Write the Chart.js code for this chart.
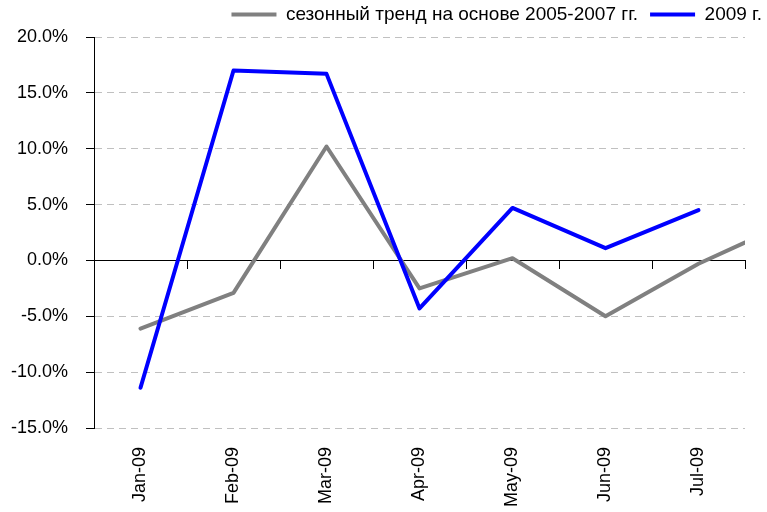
<!DOCTYPE html>
<html lang="ru">
<head>
<meta charset="UTF-8">
<title>Сезонный тренд и 2009 г.</title>
<style>
  html, body { margin: 0; padding: 0; background: #fff; }
  canvas { display: block; }
</style>
</head>
<body>
<canvas id="chart" width="767" height="512"></canvas>
<script src="https://cdn.jsdelivr.net/npm/chart.js"></script>
<script>
// categories (Aug-09 is only there so the trend line runs on to the right edge)
const months = ['Jan-09', 'Feb-09', 'Mar-09', 'Apr-09', 'May-09', 'Jun-09', 'Jul-09', 'Aug-09'];
const shownMonths = 7;

// series, in percent
const trendLabel = 'сезонный тренд на основе 2005-2007 гг.';
const trendValues = [-6.1, -2.9, 10.2, -2.5, 0.2, -5.0, -0.3, 3.5];
const label2009 = '2009 г.';
const values2009 = [-11.4, 17.0, 16.7, -4.3, 4.7, 1.1, 4.5];

// y ticks
const yTicks = [-15, -10, -5, 0, 5, 10, 15, 20];

const FONT = '"Liberation Sans", Arial, sans-serif';

// month index -> x position on a linear axis
const toPoints = vals => vals.map((v, i) => ({ x: i, y: v }));
const xMin = -0.5;
const xMax = shownMonths - 0.5;

const ctx = document.getElementById('chart').getContext('2d');

new Chart(ctx, {
    type: 'line',
    data: {
        datasets: [
            {
                label: trendLabel,
                data: toPoints(trendValues),
                borderColor: '#808080',
                backgroundColor: '#808080',
                borderWidth: 4,
                pointRadius: 0,
                tension: 0,
                clip: 0,
                borderCapStyle: 'round',
                borderJoinStyle: 'round',
                order: 1
            },
            {
                label: label2009,
                data: toPoints(values2009),
                borderColor: '#0000ff',
                backgroundColor: '#0000ff',
                borderWidth: 4,
                pointRadius: 0,
                tension: 0,
                borderCapStyle: 'round',
                borderJoinStyle: 'round',
                order: 0
            }
        ]
    },
    options: {
        responsive: false,
        animation: false,
        devicePixelRatio: 1,
        layout: {
            padding: { left: 9, top: -7, right: -7, bottom: 0 }
        },
        plugins: {
            tooltip: { enabled: false },
            legend: {
                position: 'top',
                align: 'end',
                labels: {
                    color: '#000',
                    font: { family: FONT, size: 19 },
                    boxWidth: 45,
                    boxHeight: 4,
                    padding: 12,
                    generateLabels(chart) {
                        return Chart.defaults.plugins.legend.labels.generateLabels(chart)
                            .sort((a, b) => a.datasetIndex - b.datasetIndex)
                            .map(item => ({ ...item, fillStyle: item.strokeStyle, lineWidth: 0 }));
                    }
                }
            }
        },
        scales: {
            x: {
                type: 'linear',
                position: 'bottom',
                min: xMin,
                max: xMax,
                afterBuildTicks(scale) {
                    scale.ticks = months.slice(0, shownMonths).map((m, i) => ({ value: i }));
                },
                afterFit(scale) { scale.height = 84; },
                grid: { display: false },
                border: { display: false },
                ticks: {
                    color: '#000',
                    font: { family: FONT, size: 18 },
                    minRotation: 90,
                    maxRotation: 90,
                    autoSkip: false,
                    padding: 11,
                    callback: v => months[v]
                }
            },
            xZero: {
                type: 'linear',
                axis: 'x',
                position: { y: 0 },
                min: xMin,
                max: xMax,
                afterBuildTicks(scale) {
                    const t = [];
                    for (let i = 0; i <= shownMonths; i++) t.push({ value: xMin + i });
                    scale.ticks = t;
                },
                afterFit(scale) { scale.height = 0; },
                grid: {
                    drawOnChartArea: false,
                    tickLength: 8,
                    tickColor: '#000'
                },
                border: { color: '#000', width: 1 },
                ticks: { display: false }
            },
            topSpace: {
                type: 'linear',
                axis: 'x',
                position: 'top',
                grid: { display: false },
                border: { display: false },
                ticks: { display: false },
                afterFit(scale) { scale.height = 3; }
            },
            y: {
                min: -15,
                max: 20,
                afterBuildTicks(scale) {
                    scale.ticks = yTicks.map(v => ({ value: v }));
                },
                afterFit(scale) { scale.width = 85; },
                grid: {
                    color: c => (c.tick && c.tick.value === 0) ? '#000' : '#c0c0c0',
                    tickColor: '#000',
                    tickLength: 8
                },
                border: {
                    color: '#000',
                    width: 1,
                    dash: c => (c.tick && c.tick.value === 0) ? [] : [7, 5]
                },
                ticks: {
                    color: '#000',
                    font: { family: FONT, size: 18 },
                    padding: 18,
                    callback: v => v.toFixed(1) + '%'
                }
            },
            spacer: {
                type: 'linear',
                position: 'right',
                grid: { display: false },
                border: { display: false },
                ticks: { display: false },
                afterFit(scale) { scale.width = 29; }
            }
        }
    }
});
</script>
</body>
</html>
